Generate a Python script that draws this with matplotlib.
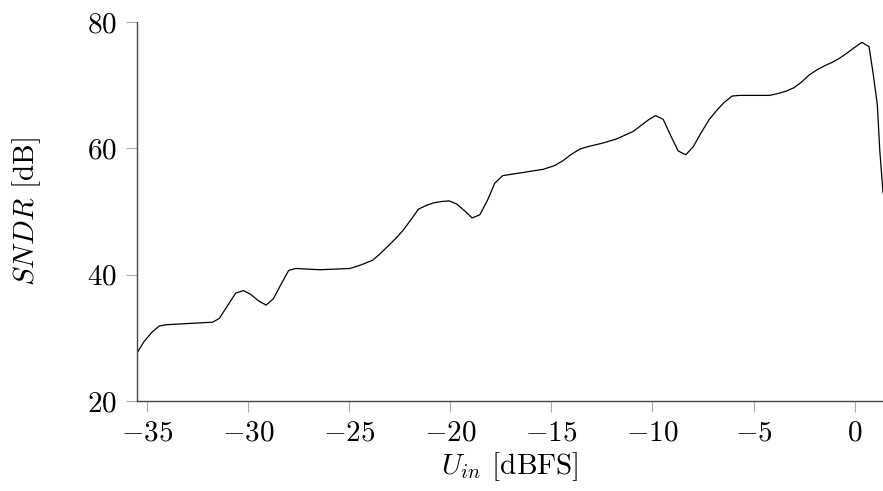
import matplotlib
matplotlib.use("Agg")
import matplotlib.pyplot as plt

u_in = [-35.5, -35.15, -34.76, -34.39, -34.03, -31.75, -31.42, -31.02, -30.61,
        -30.23, -29.87, -29.49, -29.11, -28.75, -28.37, -27.99, -27.63, -26.45,
        -24.96, -24.47, -23.84, -23.48, -23.06, -22.65, -22.32, -21.95, -21.57,
        -21.17, -20.81, -20.43, -20.05, -19.68, -19.28, -18.92, -18.54, -18.16,
        -17.80, -17.41, -16.39, -15.40, -14.83, -14.41, -14.0, -13.59, -13.18,
        -12.52, -11.78, -10.95, -10.21, -9.85, -9.47, -9.11, -8.73, -8.35,
        -7.98, -7.61, -7.19, -6.83, -6.45, -6.06, -5.68, -4.20, -3.78, -3.37,
        -3.01, -2.63, -2.26, -1.89, -1.48, -1.07, -0.74, -0.38, 0.0, 0.36,
        0.71, 0.91, 1.12, 1.24, 1.40]
sndr = [27.6, 29.4, 30.9, 31.9, 32.1, 32.5, 33.1, 35.1, 37.1,
        37.5, 36.9, 35.9, 35.2, 36.2, 38.5, 40.7, 41.0, 40.8,
        41.0, 41.5, 42.3, 43.3, 44.6, 45.9, 47.1, 48.7, 50.4,
        51.0, 51.4, 51.6, 51.7, 51.2, 50.1, 49.0, 49.5, 51.8,
        54.5, 55.7, 56.2, 56.7, 57.3, 58.1, 59.1, 59.9, 60.3,
        60.8, 61.5, 62.7, 64.5, 65.2, 64.6, 62.1, 59.6, 59.0,
        60.3, 62.4, 64.6, 66.0, 67.3, 68.3, 68.4, 68.4, 68.7, 69.1,
        69.6, 70.5, 71.6, 72.4, 73.1, 73.7, 74.3, 75.1, 76.0, 76.8,
        76.1, 71.9, 66.9, 59.7, 53.0]

plt.rcParams['font.family'] = 'serif'
plt.rcParams['font.serif'] = ['cmr10']
plt.rcParams['mathtext.fontset'] = 'cm'
plt.rcParams['axes.formatter.use_mathtext'] = True

fs = 21

fig = plt.figure(figsize=(8.83, 4.91), dpi=100)
ax = fig.add_axes([0.155, 0.183, 0.845, 0.772])
ax.plot(u_in, sndr, color='black', lw=0.9)

ax.set_xlim(-35.5, 1.4)
ax.set_ylim(20, 80)
ax.set_xticks([-35, -30, -25, -20, -15, -10, -5, 0])
ax.set_yticks([20, 40, 60, 80])

for s in ['top', 'right']:
    ax.spines[s].set_visible(False)
for s in ['left', 'bottom']:
    ax.spines[s].set_color('#444444')
    ax.spines[s].set_linewidth(1.0)
ax.tick_params(direction='out', length=8, width=0.8, color='#aaaaaa',
               labelsize=fs, pad=6)

ax.set_xlabel(r'$U_{in}$ [dBFS]', fontsize=fs, labelpad=2)
ax.set_ylabel(r'$SNDR$ [dB]', fontsize=fs, labelpad=32)

fig.savefig('out.png', dpi=100)
